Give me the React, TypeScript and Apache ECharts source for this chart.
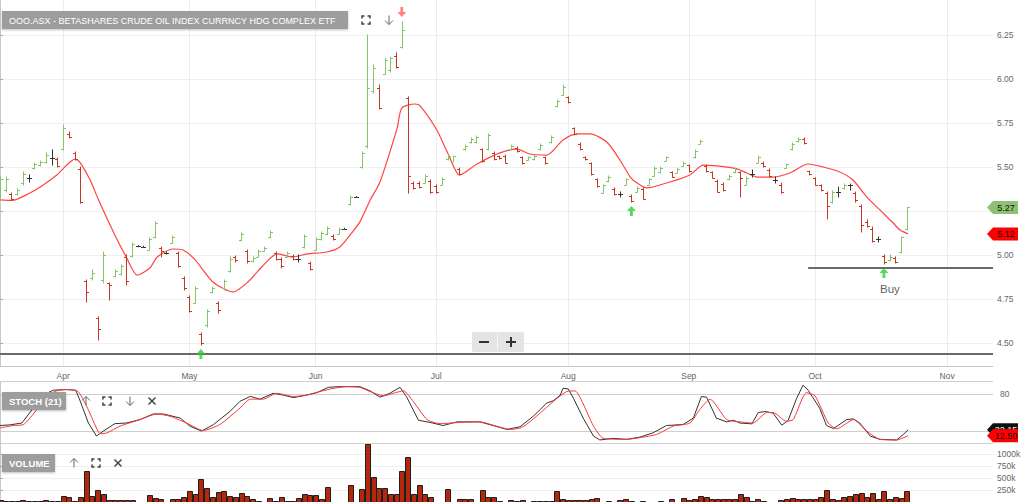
import React, { useEffect, useRef } from 'react';
import * as echarts from 'echarts';

// ---------- DATA ----------
const opens = [
  5.33, 5.37, 5.345, 5.345, 5.41, 5.435, 5.495, 5.51, 5.53, 5.55,
  5.545, 5.60, 5.69, 5.58, 5.49, 4.85, 4.87, 4.64, 4.86, 4.84,
  4.88, 4.89, 4.99, 4.995, 5.05, 5.048, 5.03, 5.10, 5.04, 5.012,
  5.07, 5.01, 4.87, 4.76, 4.73, 4.55, 4.60, 4.79, 4.725, 4.81,
  4.91, 4.99, 5.085, 5.02, 4.965, 4.99, 5.025, 5.10, 5.01, 4.98,
  4.99, 4.995, 4.98, 5.045, 4.955, 5.03, 5.09, 5.12, 5.11, 5.12,
  5.15, 5.29, 5.33, 5.50, 5.62, 5.93, 5.95, 6.03, 6.05, 6.13,
  6.18, 5.89, 5.41, 5.41, 5.41, 5.42, 5.39, 5.40, 5.545, 5.53,
  5.49, 5.60, 5.64, 5.64, 5.60, 5.60, 5.58, 5.56, 5.565, 5.60,
  5.61, 5.555, 5.542, 5.545, 5.60, 5.555, 5.64, 5.845, 5.91, 5.895,
  5.72, 5.63, 5.555, 5.52, 5.43, 5.355, 5.42, 5.375, 5.345, 5.40,
  5.335, 5.36, 5.375, 5.40, 5.45, 5.47, 5.535, 5.47, 5.468, 5.508,
  5.51, 5.555, 5.633, 5.505, 5.47, 5.42, 5.405, 5.43, 5.47, 5.47,
  5.40, 5.46, 5.525, 5.525, 5.485, 5.425, 5.40, 5.495, 5.60, 5.645,
  5.66, 5.475, 5.435, 5.395, 5.35, 5.30, 5.36, 5.378, 5.40, 5.355,
  5.28, 5.19, 5.15, 5.09, 4.995, 4.97, 4.985, 5.015, 5.145,
];
const highs = [
  5.443, 5.443, 5.352, 5.375, 5.472, 5.455, 5.523, 5.534, 5.58, 5.597,
  5.551, 5.739, 5.699, 5.585, 5.50, 4.858, 4.915, 4.648, 5.017, 4.841,
  4.915, 4.943, 5.00, 5.068, 5.053, 5.05, 5.097, 5.188, 5.045, 5.017,
  5.108, 5.017, 4.875, 4.767, 4.818, 4.557, 4.688, 4.818, 4.733, 4.858,
  4.989, 4.994, 5.125, 5.028, 4.989, 5.028, 5.045, 5.136, 5.017, 4.983,
  5.017, 5.00, 5.00, 5.114, 4.96, 5.097, 5.131, 5.159, 5.114, 5.153,
  5.152, 5.335, 5.332, 5.585, 6.25, 6.08, 5.966, 6.119, 6.125, 6.148,
  6.324, 5.898, 5.415, 5.415, 5.455, 5.426, 5.398, 5.438, 5.568, 5.562,
  5.494, 5.625, 5.665, 5.676, 5.602, 5.688, 5.585, 5.562, 5.568, 5.625,
  5.614, 5.557, 5.557, 5.568, 5.631, 5.557, 5.676, 5.881, 5.966, 5.898,
  5.722, 5.636, 5.557, 5.523, 5.432, 5.398, 5.449, 5.381, 5.358, 5.432,
  5.341, 5.386, 5.381, 5.432, 5.50, 5.50, 5.557, 5.472, 5.494, 5.528,
  5.511, 5.597, 5.653, 5.511, 5.472, 5.426, 5.409, 5.455, 5.494, 5.472,
  5.443, 5.483, 5.562, 5.528, 5.489, 5.443, 5.409, 5.517, 5.636, 5.665,
  5.665, 5.477, 5.438, 5.398, 5.358, 5.364, 5.386, 5.403, 5.403, 5.358,
  5.284, 5.199, 5.159, 5.102, 5.00, 5.00, 4.989, 5.102, 5.27,
];
const lows = [
  5.313, 5.358, 5.313, 5.341, 5.398, 5.415, 5.489, 5.506, 5.523, 5.511,
  5.50, 5.597, 5.665, 5.54, 5.295, 4.733, 4.858, 4.517, 4.841, 4.744,
  4.875, 4.886, 4.83, 4.989, 5.047, 5.045, 5.028, 5.097, 4.989, 5.006,
  5.068, 4.932, 4.801, 4.676, 4.727, 4.489, 4.591, 4.784, 4.67, 4.801,
  4.903, 4.96, 5.08, 4.955, 4.96, 4.989, 5.023, 5.097, 4.972, 4.926,
  4.989, 4.972, 4.96, 5.04, 4.915, 5.028, 5.085, 5.114, 5.085, 5.119,
  5.148, 5.284, 5.328, 5.494, 5.608, 5.92, 5.83, 6.028, 6.04, 6.063,
  6.176, 5.352, 5.375, 5.381, 5.409, 5.352, 5.352, 5.398, 5.54, 5.528,
  5.455, 5.597, 5.636, 5.636, 5.528, 5.597, 5.54, 5.545, 5.523, 5.597,
  5.585, 5.517, 5.54, 5.54, 5.597, 5.517, 5.636, 5.841, 5.909, 5.864,
  5.682, 5.597, 5.54, 5.455, 5.386, 5.352, 5.415, 5.341, 5.33, 5.398,
  5.301, 5.358, 5.318, 5.398, 5.449, 5.466, 5.534, 5.443, 5.466, 5.506,
  5.472, 5.551, 5.631, 5.472, 5.438, 5.358, 5.364, 5.426, 5.466, 5.33,
  5.398, 5.443, 5.523, 5.50, 5.443, 5.409, 5.352, 5.494, 5.597, 5.642,
  5.631, 5.455, 5.398, 5.364, 5.205, 5.295, 5.33, 5.375, 5.369, 5.301,
  5.131, 5.159, 5.074, 5.074, 4.949, 4.966, 4.955, 5.011, 5.142,
];
const closes = [
  5.43, 5.43, 5.32, 5.37, 5.46, 5.435, 5.515, 5.53, 5.57, 5.55,
  5.505, 5.72, 5.67, 5.545, 5.30, 4.79, 4.90, 4.58, 5.00, 4.83,
  4.91, 4.935, 4.85, 5.06, 5.05, 5.048, 5.09, 5.18, 5.02, 5.012,
  5.10, 4.94, 4.81, 4.68, 4.81, 4.50, 4.68, 4.81, 4.69, 4.85,
  4.98, 4.97, 5.12, 4.965, 4.985, 5.02, 5.04, 5.13, 4.98, 4.94,
  5.01, 4.975, 4.98, 5.11, 4.92, 5.09, 5.125, 5.155, 5.09, 5.15,
  5.15, 5.33, 5.33, 5.58, 5.95, 6.06, 5.835, 6.11, 6.12, 6.07,
  6.28, 5.45, 5.38, 5.385, 5.45, 5.36, 5.36, 5.43, 5.565, 5.56,
  5.46, 5.62, 5.66, 5.67, 5.535, 5.68, 5.545, 5.55, 5.525, 5.62,
  5.59, 5.52, 5.555, 5.565, 5.625, 5.52, 5.67, 5.875, 5.955, 5.87,
  5.69, 5.60, 5.545, 5.46, 5.39, 5.395, 5.445, 5.345, 5.345, 5.43,
  5.305, 5.38, 5.32, 5.43, 5.495, 5.495, 5.555, 5.445, 5.49, 5.525,
  5.475, 5.59, 5.65, 5.475, 5.44, 5.36, 5.37, 5.45, 5.49, 5.44,
  5.44, 5.46, 5.555, 5.505, 5.45, 5.425, 5.36, 5.515, 5.63, 5.66,
  5.635, 5.46, 5.40, 5.37, 5.28, 5.36, 5.36, 5.40, 5.40, 5.31,
  5.17, 5.165, 5.08, 5.09, 4.96, 4.99, 4.96, 5.10, 5.27,
];
const volumesK = [
  40, 20, 20, 20, 50, 20, 20, 25, 35, 20,
  25, 131, 110, 20, 98, 646, 131, 250, 160, 35,
  45, 45, 35, 45, 0, 0, 152, 77, 56, 0,
  56, 56, 98, 223, 167, 473, 298, 98, 202, 236,
  131, 98, 181, 125, 56, 20, 0, 77, 20, 98,
  20, 20, 77, 167, 146, 146, 56, 306, 0, 0,
  0, 348, 0, 264, 1215, 514, 298, 298, 167, 167,
  646, 931, 167, 354, 167, 110, 0, 0, 264, 0,
  56, 56, 56, 0, 250, 98, 110, 20, 0, 40,
  30, 40, 0, 20, 20, 20, 20, 229, 56, 40,
  40, 40, 40, 56, 77, 0, 30, 0, 40, 56,
  30, 0, 20, 0, 0, 20, 0, 56, 0, 77,
  40, 56, 125, 98, 66, 66, 66, 66, 66, 160,
  110, 20, 56, 20, 0, 10, 40, 56, 75, 66,
  56, 56, 56, 110, 250, 66, 40, 98, 125, 160,
  181, 98, 181, 56, 229, 56, 98, 77, 236,
];
// moving average : x = bar index, y = price
const maIdx = [0, 2.1, 5.2, 7, 9.9, 13.1, 13.9, 15.7, 17.1, 20, 22, 23.9, 26.1, 27.4, 30.1, 31.9, 34, 37.1, 40.6, 43.2, 45.6, 48.3, 51, 53.5, 57, 59.2, 61, 62.7, 64.5, 66.2, 69.2, 70, 72.3, 73.2, 76.1, 78, 80.1, 83.1, 87.1, 90.1, 92.3, 95.3, 96.3, 98.1, 100.5, 102.8, 105.7, 108, 109.8, 111, 112.7, 116.7, 120.2, 122.5, 124.9, 128.4, 130.1, 131.9, 134.7, 137.6, 140.8, 143.4, 146.3, 148.6, 151, 153.3, 155.6, 156.8, 158.2];
const maVal = [5.313, 5.31, 5.352, 5.386, 5.455, 5.545, 5.528, 5.426, 5.318, 5.114, 4.989, 4.886, 4.926, 4.989, 5.034, 5.028, 4.972, 4.847, 4.79, 4.847, 4.932, 5.006, 4.989, 5.006, 5.017, 5.045, 5.114, 5.188, 5.313, 5.415, 5.722, 5.835, 5.858, 5.847, 5.71, 5.58, 5.455, 5.517, 5.58, 5.602, 5.574, 5.568, 5.591, 5.653, 5.688, 5.688, 5.642, 5.54, 5.443, 5.409, 5.381, 5.415, 5.455, 5.511, 5.506, 5.489, 5.466, 5.443, 5.443, 5.466, 5.517, 5.50, 5.472, 5.426, 5.33, 5.256, 5.182, 5.142, 5.12];
// stochastic %K (black) and %D (red)
const kIdx = [0, 1.7, 3.8, 5.8, 7.5, 9.3, 11.6, 13.2, 13.9, 15.4, 16.8, 18, 20, 22, 24.4, 26.7, 28.5, 31.4, 33.1, 35.1, 37.2, 40.1, 41.8, 43.6, 45.3, 47.6, 49.4, 51.1, 53.4, 55.2, 57.2, 59.2, 62.7, 64.5, 66.2, 67.9, 69.7, 70.8, 72.9, 74.9, 77.2, 79.6, 83.6, 85.9, 88.3, 90.6, 92.9, 94.1, 95.2, 96.4, 97.6, 98.1, 99, 99.9, 101.6, 103.4, 104.5, 106.8, 109.2, 111.5, 113.8, 116.1, 119, 120.8, 122.2, 123.1, 124.8, 126.6, 127.8, 128.9, 131, 132.1, 133.3, 134.7, 136.2, 137.3, 138.8, 139.9, 140.8, 142.8, 144, 145.2, 147.5, 148.7, 149.8, 151.6, 153.3, 156.2, 157.4, 158.2];
const kVal = [29, 30, 33, 57, 78, 86, 87, 86, 70, 33, 12, 20, 32, 33, 38.6, 47.6, 47.6, 41, 28, 20, 30.6, 52, 68, 76, 71.5, 81, 78, 74, 78, 82, 90.6, 91.7, 91.7, 84.8, 74.7, 81, 90.6, 75.8, 37.5, 34, 29, 34.9, 34.9, 29, 22.7, 27, 44, 54.5, 65, 69, 78, 89, 88, 73, 41, 12, 5.7, 8.3, 6.7, 10.4, 17.3, 29, 30.6, 41, 75.8, 74.7, 41, 34.9, 37.5, 33, 31.7, 50, 51.6, 49, 29.6, 37, 73, 94, 86, 57, 29, 24, 38.6, 39.6, 33, 12, 6.7, 5.7, 14.7, 22.15];
const dIdx = [0, 2.3, 4.1, 6.4, 8.1, 9.9, 11.6, 13.6, 15.1, 16.8, 17.4, 18.6, 20.9, 24.4, 27.3, 29.6, 32.5, 35.4, 38.3, 41.8, 43.6, 45.9, 48.2, 51.1, 53.4, 55.7, 58.1, 60.4, 62.7, 64.5, 66.8, 68.5, 70.3, 72, 74.4, 76.7, 80.1, 83.6, 86.5, 88.9, 90.6, 91.7, 94.1, 96.4, 98.7, 100.2, 101.3, 103.4, 105.1, 109.2, 111.5, 114.4, 117.3, 120.2, 121.9, 123.7, 126.6, 128.9, 131.2, 133.6, 134.7, 137, 138.2, 140.5, 142, 144.3, 145.8, 148.7, 151, 153.3, 156.2, 158.2];
const dVal = [25, 29, 30.6, 54.5, 76.8, 85, 87, 83.7, 60, 25, 16, 17, 28, 38.6, 47.6, 44, 33, 21, 30.6, 57, 71.5, 71.5, 81, 75.8, 78, 83.7, 89, 91.7, 90.6, 83.7, 76.8, 81, 85, 67.8, 38.6, 32, 34, 34.9, 28, 22.7, 25, 30.6, 49, 67.8, 83.7, 84.8, 70, 28, 8.3, 6.7, 9.4, 14.7, 28, 33, 54.5, 71.5, 38.6, 34.9, 33, 50, 50, 36, 38.6, 82, 76.8, 33, 23.7, 38.6, 20, 6.7, 5.7, 12.5];

const monthIdx = [11, 33, 55, 76, 99, 120, 142, 165];
const monthNames = ['Apr', 'May', 'Jun', 'Jul', 'Aug', 'Sep', 'Oct', 'Nov'];
const priceGrid = [4.5, 4.75, 5.0, 5.25, 5.5, 5.75, 6.0, 6.25];
const priceLabels = [4.5, 4.75, 5.0, 5.5, 5.75, 6.0, 6.25];
const stochLines = [0, 20, 80, 100];
const stochLabels = [80];
const volTicks = [250, 500, 750, 1000];

const buyIdx = [35, 110, 154];
const buyLow = [4.489, 5.301, 4.949];
const buyLabels = ['', '', 'Buy'];
const sellIdx = [70];
const sellHigh = [6.324];

const priceFlagVals = [5.27, 5.12];
const priceFlagFill = ['#8fc174', '#ff0000'];
const priceFlagText = ['#111', '#111'];
const stochFlagVals = [22.15, 12.5];
const stochFlagFill = ['#111111', '#ff0000'];
const stochFlagText = ['#ffffff', '#111'];

const supportFull = 4.437;
const supportPartial = 4.926;
const supportPartialStart = 140.8;

const X_MAX = 173;
const PRICE_MIN = 4.3693;
const PRICE_MAX = 6.4489;
const VOL_MAX = 1219;

// ---------- STYLE ----------
const GREEN = '#86c46a';
const RED = '#c4391f';
const DARK = '#333333';
const FONT = 'Liberation Sans, Arial, sans-serif';

function ohlcRender(params: any, api: any) {
  const i = api.value(0);
  const o = api.value(1), h = api.value(2), l = api.value(3), c = api.value(4);
  const pH = api.coord([i, h]);
  const pL = api.coord([i, l]);
  const pO = api.coord([i, o]);
  const pC = api.coord([i, c]);
  const color = c > o ? GREEN : c < o ? RED : DARK;
  const x = Math.round(pH[0]) + 0.5;
  const st = { stroke: color, lineWidth: 1 };
  return {
    type: 'group',
    children: [
      { type: 'line', shape: { x1: x, y1: pH[1] - 0.5, x2: x, y2: pL[1] + 0.5 }, style: st },
      { type: 'line', shape: { x1: x - 2.5, y1: Math.round(pO[1]) + 0.5, x2: x, y2: Math.round(pO[1]) + 0.5 }, style: st },
      { type: 'line', shape: { x1: x, y1: Math.round(pC[1]) + 0.5, x2: x + 2.5, y2: Math.round(pC[1]) + 0.5 }, style: st },
    ],
  };
}

function volRender(params: any, api: any) {
  const i = api.value(0);
  const v = api.value(1);
  if (!v) return null;
  const p0 = api.coord([i - 0.43, v]);
  const p1 = api.coord([i + 0.43, 0]);
  const x = Math.round(p0[0]) + 0.5;
  const w = Math.max(2, Math.round(p1[0] - p0[0]));
  return {
    type: 'rect',
    shape: { x, y: Math.round(p0[1]) + 0.5, width: w, height: p1[1] - Math.round(p0[1]) },
    style: { fill: '#b3280c', stroke: '#1e1e1e', lineWidth: 1 },
  };
}

function makeFlagRender(fills: string[], texts: string[], decimals: number) {
  return (params: any, api: any) => {
    const val = api.value(1);
    const y = api.coord([0, val])[1];
    const cs = params.coordSys;
    const x0 = cs.x + cs.width - 6;
    const idx = params.dataIndex;
    return {
      type: 'group',
      children: [
        {
          type: 'polygon',
          shape: { points: [[x0, y], [x0 + 6, y - 6.5], [x0 + 31, y - 6.5], [x0 + 31, y + 6.5], [x0 + 6, y + 6.5]] },
          style: { fill: fills[idx] },
        },
        {
          type: 'text',
          style: {
            text: val.toFixed(decimals), x: x0 + 19, y: y + 0.5, align: 'center', verticalAlign: 'middle',
            fill: texts[idx], font: '9px ' + FONT,
          },
        },
      ],
    };
  };
}

// ---- decoration helpers (UI icons) ----
function fsIcon(cx: number, cy: number) {
  const s = 4, c = 2.5;
  const st = { stroke: '#444', lineWidth: 1.5, fill: 'none' };
  return [
    { type: 'polyline', z: 100, shape: { points: [[cx - s, cy - s + c], [cx - s, cy - s], [cx - s + c, cy - s]] }, style: st },
    { type: 'polyline', z: 100, shape: { points: [[cx + s - c, cy - s], [cx + s, cy - s], [cx + s, cy - s + c]] }, style: st },
    { type: 'polyline', z: 100, shape: { points: [[cx - s, cy + s - c], [cx - s, cy + s], [cx - s + c, cy + s]] }, style: st },
    { type: 'polyline', z: 100, shape: { points: [[cx + s - c, cy + s], [cx + s, cy + s], [cx + s, cy + s - c]] }, style: st },
  ];
}
function arrowIcon(cx: number, cy: number, up: boolean) {
  const d = up ? -1 : 1;
  const st = { stroke: '#666', lineWidth: 1, fill: 'none' };
  return [
    { type: 'line', z: 100, shape: { x1: cx, y1: cy - 4.5, x2: cx, y2: cy + 4.5 }, style: st },
    { type: 'polyline', z: 100, shape: { points: [[cx - 4, cy + d * 0.5], [cx, cy + d * 4.5], [cx + 4, cy + d * 0.5]] }, style: st },
  ];
}
function closeIcon(cx: number, cy: number) {
  const st = { stroke: '#444', lineWidth: 1.5 };
  return [
    { type: 'line', z: 100, shape: { x1: cx - 3.5, y1: cy - 3.5, x2: cx + 3.5, y2: cy + 3.5 }, style: st },
    { type: 'line', z: 100, shape: { x1: cx + 3.5, y1: cy - 3.5, x2: cx - 3.5, y2: cy + 3.5 }, style: st },
  ];
}
function badge(x: number, y: number, w: number, h: number, text: string, size: number, bold: boolean) {
  return [
    { type: 'rect', z: 100, shape: { x, y, width: w, height: h }, style: { fill: '#9d9d9d', shadowBlur: 2, shadowColor: 'rgba(0,0,0,0.25)', shadowOffsetY: 1 } },
    { type: 'text', z: 101, style: { text, x: x + 7, y: y + h / 2 + 0.5, verticalAlign: 'middle', fill: '#ffffff', font: (bold ? 'bold ' : '') + size + 'px ' + FONT } },
  ];
}

export default function App() {
  const ref = useRef<HTMLDivElement>(null);
  useEffect(() => {
    const chart = echarts.init(ref.current as HTMLDivElement, null, { renderer: 'svg' });

    const ohlcData = opens.map((o, i) => [i, o, highs[i], lows[i], closes[i]]);
    const volData = volumesK.map((v, i) => [i, v]);
    const maData = maIdx.map((x, i) => [x, maVal[i]]);
    const kData = kIdx.map((x, i) => [x, kVal[i]]);
    const dData = dIdx.map((x, i) => [x, dVal[i]]);
    const last = opens.length - 1;

    const upArrow = 'path://M5,0 L10,5.5 L6.6,5.5 L6.6,11 L3.4,11 L3.4,5.5 L0,5.5 Z';
    const downArrow = 'path://M3.4,0 L6.6,0 L6.6,5.5 L10,5.5 L5,11 L0,5.5 L3.4,5.5 Z';

    const option: any = {
      animation: false,
      textStyle: { fontFamily: FONT },
      grid: [
        { left: 0, right: 31, top: 0, height: 366 },
        { left: 0, right: 31, top: 381.5, height: 62 },
        { left: 0, right: 31, top: 443.5, bottom: 0 },
      ],
      xAxis: [
        {
          gridIndex: 0, type: 'value', min: 0, max: X_MAX,
          axisLine: { show: true, lineStyle: { color: '#c8c8c8' } },
          axisTick: { show: false, customValues: monthIdx },
          axisLabel: {
            customValues: monthIdx, color: '#666', fontSize: 8.5, margin: 5,
            formatter: (v: number) => monthNames[monthIdx.indexOf(Math.round(v))] || '',
          },
          splitLine: { show: true, lineStyle: { color: '#ececec' } },
        },
        { gridIndex: 1, type: 'value', min: 0, max: X_MAX, show: false },
        { gridIndex: 2, type: 'value', min: 0, max: X_MAX, show: false },
      ],
      yAxis: [
        {
          gridIndex: 0, type: 'value', position: 'right', min: PRICE_MIN, max: PRICE_MAX,
          axisLine: { show: true, lineStyle: { color: '#c8c8c8' } },
          axisTick: { show: true, customValues: priceGrid, length: 3, lineStyle: { color: '#aaa' } },
          axisLabel: { customValues: priceLabels, color: '#666', fontSize: 8.5, margin: 4, formatter: (v: number) => v.toFixed(2) },
          splitLine: { show: true, lineStyle: { color: '#efefef' } },
        },
        {
          gridIndex: 1, type: 'value', position: 'right', min: 0, max: 100,
          axisLine: { show: true, lineStyle: { color: '#c8c8c8' } },
          axisTick: { show: false, customValues: stochLines },
          axisLabel: { customValues: stochLabels, color: '#666', fontSize: 8.5, margin: 7 },
          splitLine: { show: true, lineStyle: { color: '#cfcfcf' } },
        },
        {
          gridIndex: 2, type: 'value', position: 'right', min: 0, max: VOL_MAX,
          axisLine: { show: true, lineStyle: { color: '#c8c8c8' } },
          axisTick: { show: true, customValues: volTicks, length: 3, lineStyle: { color: '#aaa' } },
          axisLabel: { customValues: volTicks, color: '#666', fontSize: 8.5, margin: 4, formatter: (v: number) => v + 'k' },
          splitLine: { show: true, lineStyle: { color: '#efefef' } },
        },
      ],
      series: [
        {
          type: 'line', name: 'MA', xAxisIndex: 0, yAxisIndex: 0, data: maData,
          showSymbol: false, smooth: 0.25, lineStyle: { color: '#ff4343', width: 1.2 }, z: 3,
          markLine: {
            silent: true, symbol: ['none', 'none'], label: { show: false },
            lineStyle: { color: '#6a6a6a', width: 2, type: 'solid' },
            data: [
              { yAxis: supportFull },
              [{ coord: [supportPartialStart, supportPartial] }, { coord: [X_MAX, supportPartial] }],
            ],
          },
        },
        {
          type: 'custom', name: 'OHLC', xAxisIndex: 0, yAxisIndex: 0, data: ohlcData,
          encode: { x: 0, y: [1, 2, 3, 4] }, renderItem: ohlcRender, z: 4, clip: true,
        },
        {
          type: 'scatter', name: 'buy', xAxisIndex: 0, yAxisIndex: 0, z: 6,
          symbol: upArrow, symbolSize: [9, 10], symbolOffset: [0, 9],
          itemStyle: { color: '#2fcf2f' },
          data: buyIdx.map((x, i) => ({
            value: [x, buyLow[i]],
            label: buyLabels[i]
              ? { show: true, formatter: buyLabels[i], position: 'bottom', distance: 5, offset: [6, 0], color: '#333', fontSize: 11.5 }
              : { show: false },
          })),
        },
        {
          type: 'scatter', name: 'sell', xAxisIndex: 0, yAxisIndex: 0, z: 6,
          symbol: downArrow, symbolSize: [9, 10], symbolOffset: [0, -10],
          itemStyle: { color: '#ff6363' },
          data: sellIdx.map((x, i) => [x, sellHigh[i]]),
        },
        {
          type: 'custom', name: 'priceFlags', xAxisIndex: 0, yAxisIndex: 0, clip: false, z: 10,
          data: priceFlagVals.map((v) => [last, v]),
          renderItem: makeFlagRender(priceFlagFill, priceFlagText, 2),
        },
        {
          type: 'line', name: '%K', xAxisIndex: 1, yAxisIndex: 1, data: kData,
          showSymbol: false, lineStyle: { color: '#333', width: 1 }, z: 3,
        },
        {
          type: 'line', name: '%D', xAxisIndex: 1, yAxisIndex: 1, data: dData,
          showSymbol: false, smooth: 0.2, lineStyle: { color: '#ff3535', width: 1 }, z: 4,
        },
        {
          type: 'custom', name: 'stochFlags', xAxisIndex: 1, yAxisIndex: 1, clip: false, z: 10,
          data: stochFlagVals.map((v) => [last, v]),
          renderItem: makeFlagRender(stochFlagFill, stochFlagText, 2),
        },
        {
          type: 'custom', name: 'Volume', xAxisIndex: 2, yAxisIndex: 2, data: volData,
          encode: { x: 0, y: 1 }, renderItem: volRender, z: 3, clip: false,
        },
      ],
      graphic: [
        ...badge(2, 11, 346, 18, 'OOO.ASX - BETASHARES CRUDE OIL INDEX CURRNCY HDG COMPLEX ETF', 9, false),
        ...fsIcon(366, 20),
        ...arrowIcon(389, 20, false),
        ...badge(2, 392, 64, 18, 'STOCH (21)', 9.5, true),
        ...arrowIcon(86, 401, true),
        ...fsIcon(107, 401),
        ...arrowIcon(130, 401, false),
        ...closeIcon(152, 401),
        ...badge(2, 454, 53, 18, 'VOLUME', 9.5, true),
        ...arrowIcon(74, 463, true),
        ...fsIcon(96, 463),
        ...closeIcon(118, 463),
        { type: 'rect', z: 100, shape: { x: 472, y: 332, width: 52, height: 20, r: 2 }, style: { fill: '#e4e4e4' } },
        { type: 'line', z: 101, shape: { x1: 497.5, y1: 334, x2: 497.5, y2: 350 }, style: { stroke: '#f6f6f6', lineWidth: 1 } },
        { type: 'line', z: 101, shape: { x1: 479, y1: 342, x2: 489, y2: 342 }, style: { stroke: '#333', lineWidth: 2 } },
        { type: 'line', z: 101, shape: { x1: 506, y1: 342, x2: 516, y2: 342 }, style: { stroke: '#333', lineWidth: 2 } },
        { type: 'line', z: 101, shape: { x1: 511, y1: 337, x2: 511, y2: 347 }, style: { stroke: '#333', lineWidth: 2 } },
      ],
    };

    chart.setOption(option);
    return () => chart.dispose();
  }, []);
  return <div ref={ref} style={{ position: 'absolute', left: 0, top: 0, width: 1024, height: 502 }} />;
}
